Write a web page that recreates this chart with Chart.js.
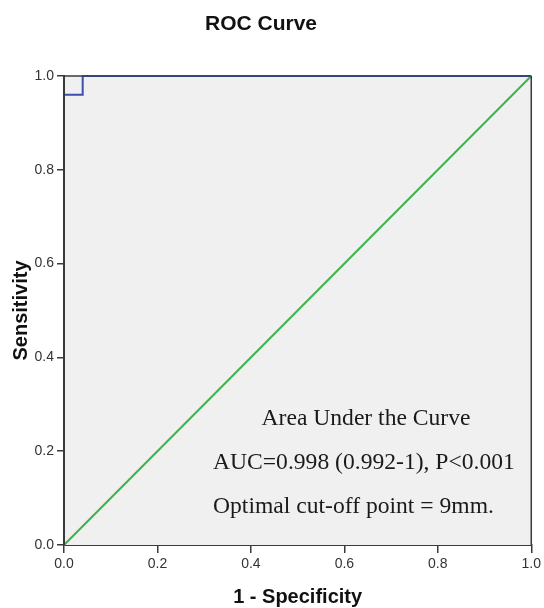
<!DOCTYPE html>
<html>
<head>
<meta charset="utf-8">
<script src="https://cdn.jsdelivr.net/npm/chart.js@4.4.1/dist/chart.umd.min.js"></script>
<style>
  html, body { margin: 0; padding: 0; background: #fff; }
  #wrap { width: 544px; height: 608px; position: relative; }
</style>
</head>
<body>
<div id="wrap"><canvas id="roc"></canvas></div>
<script>
// ROC curve (1 - specificity, sensitivity)
var rocFpr = [0, 0, 0.04, 0.04, 1];
var rocTpr = [0, 0.96, 0.96, 1, 1];
// chance diagonal
var refFpr = [0, 1];
var refTpr = [0, 1];
var tickValues = [0, 0.2, 0.4, 0.6, 0.8, 1.0];
var noteLines = ['Area Under the Curve', 'AUC=0.998 (0.992-1), P<0.001', 'Optimal cut-off point = 9mm.'];

function toPoints(xs, ys) {
  return xs.map(function(x, i) { return {x: x, y: ys[i]}; });
}

var axisColor = '#3a3a3a';
var tickFont = {family: 'Arial, "Liberation Sans", sans-serif', size: 14};

// background, frame and the text bits SPSS puts round the plot
var decor = {
  id: 'decor',
  beforeDatasetsDraw: function(chart) {
    var a = chart.chartArea, ctx = chart.ctx;
    ctx.save();
    ctx.fillStyle = '#eff0ef';
    ctx.fillRect(a.left, a.top, a.right - a.left, a.bottom - a.top);
    ctx.restore();
  },
  afterDatasetsDraw: function(chart) {
    var a = chart.chartArea, ctx = chart.ctx;
    ctx.save();
    // left axis drawn again so the curve hides under it, as in SPSS
    ctx.strokeStyle = axisColor;
    ctx.lineWidth = 2;
    ctx.beginPath();
    ctx.moveTo(a.left, a.bottom);
    ctx.lineTo(a.left, a.top);
    ctx.stroke();
    ctx.lineWidth = 1.5;
    ctx.beginPath();
    ctx.moveTo(a.left, a.top);
    ctx.lineTo(a.left + (a.right - a.left) * rocFpr[2], a.top);
    ctx.moveTo(a.right, a.top);
    ctx.lineTo(a.right, a.bottom);
    ctx.stroke();
    ctx.strokeStyle = '#34406e';
    ctx.beginPath();
    ctx.moveTo(a.left + (a.right - a.left) * rocFpr[2], a.top);
    ctx.lineTo(a.right, a.top);
    ctx.stroke();
    ctx.restore();
  },
  afterDraw: function(chart) {
    var a = chart.chartArea, ctx = chart.ctx;
    ctx.save();
    ctx.fillStyle = '#111';
    ctx.textAlign = 'center';
    ctx.textBaseline = 'alphabetic';
    ctx.font = 'bold 21px Arial, "Liberation Sans", sans-serif';
    ctx.fillText('ROC Curve', 261, 30);

    ctx.font = 'bold 20px Arial, "Liberation Sans", sans-serif';
    ctx.fillText('1 - Specificity', (a.left + a.right) / 2, 603);

    ctx.save();
    ctx.translate(27, (a.top + a.bottom) / 2);
    ctx.rotate(-Math.PI / 2);
    ctx.fillText('Sensitivity', 0, 0);
    ctx.restore();

    ctx.fillStyle = '#1a1a1a';
    ctx.font = '23.6px "Liberation Serif", "Times New Roman", serif';
    ctx.textAlign = 'center';
    ctx.fillText(noteLines[0], 366, 425);
    ctx.textAlign = 'left';
    ctx.fillText(noteLines[1], 213, 469);
    ctx.fillText(noteLines[2], 213, 513);
    ctx.restore();
  }
};

var chart = new Chart(document.getElementById('roc'), {
  type: 'scatter',
  data: {
    datasets: [{
      label: 'Reference',
      data: toPoints(refFpr, refTpr),
      showLine: true,
      borderColor: '#3cb44b',
      borderWidth: 2,
      pointRadius: 0,
      clip: false
    }, {
      label: 'ROC',
      data: toPoints(rocFpr, rocTpr),
      showLine: true,
      borderColor: '#3d4fb0',
      borderWidth: 2,
      pointRadius: 0,
      clip: false
    }]
  },
  options: {
    responsive: true,
    maintainAspectRatio: false,
    animation: false,
    layout: {padding: {top: 76, right: 10, left: 0, bottom: 0}},
    plugins: {
      legend: {display: false},
      tooltip: {enabled: false}
    },
    scales: {
      x: {
        type: 'linear',
        min: 0,
        max: 1,
        afterBuildTicks: function(scale) {
          scale.ticks = tickValues.map(function(v) { return {value: v}; });
        },
        afterFit: function(scale) { scale.height = 63; },
        grid: {drawOnChartArea: false, drawTicks: true, tickLength: 8, color: axisColor, lineWidth: 1.5},
        border: {display: true, color: axisColor, width: 2},
        ticks: {
          padding: 3,
          color: '#333',
          font: tickFont,
          callback: function(v) { return v.toFixed(1); }
        }
      },
      y: {
        type: 'linear',
        min: 0,
        max: 1,
        afterBuildTicks: function(scale) {
          scale.ticks = tickValues.map(function(v) { return {value: v}; });
        },
        afterFit: function(scale) { scale.width = 64; },
        grid: {drawOnChartArea: false, drawTicks: true, tickLength: 7, color: axisColor, lineWidth: 1.5},
        border: {display: true, color: axisColor, width: 2},
        ticks: {
          padding: 3,
          color: '#333',
          font: tickFont,
          callback: function(v) { return v.toFixed(1); }
        }
      }
    }
  },
  plugins: [decor]
});
</script>
</body>
</html>
